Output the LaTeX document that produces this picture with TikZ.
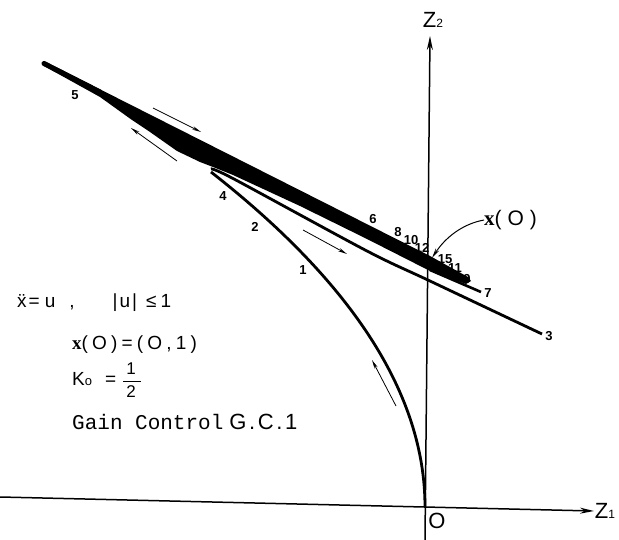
\documentclass[tikz,border=0pt]{standalone}
\usepackage{fontspec}
\usepackage{amsmath}
\setmainfont{Liberation Sans}
\newfontfamily\tyfont{Liberation Mono}
\newfontfamily\bxfont{Liberation Serif}
\usetikzlibrary{arrows.meta}
\begin{document}
\begin{tikzpicture}[x=1pt,y=-1pt,
  lbl/.style={font=\fontsize{13}{13}\selectfont\bfseries, inner sep=0pt},
  eqtext/.style={font=\fontsize{19}{22}\selectfont\addfontfeature{LetterSpace=22}, inner sep=0pt, anchor=west},
  traj/.style={line width=2.8pt},
  flow/.style={line width=0.8pt, -{Stealth[length=9pt,width=3.5pt]}},
  axisline/.style={line width=1.5pt, -{Stealth[length=14pt,width=6pt]}},
  axlabel/.style={font=\fontsize{22}{22}\selectfont, inner sep=0pt}]
\useasboundingbox (0,0) rectangle (619,540);
% axes
\coordinate (h0) at (0,497);
\coordinate (h1) at (594,511);
\coordinate (v0) at (425,540);
\coordinate (v1) at (430,36);
\draw[axisline] (h0) -- (h1);
\draw[axisline] (v0) -- (v1);
\node[axlabel] (z2) at (433,20) {Z{\fontsize{12}{12}\selectfont 2}};
\node[axlabel] (z1) at (605,511) {Z{\fontsize{12}{12}\selectfont 1}};
\node[axlabel] (orig) at (437,521) {O};
% trajectory 5 and the black band of trajectories
\coordinate (t5a) at (44,63.5);
\coordinate (t5b) at (100,92);
\draw[line width=5pt, line cap=round] (t5a) -- (t5b);
\fill (44,61) -- (430,256) -- (468,277)
  -- (471,281) -- (466,284) -- (430,271) -- (367,239) -- (300,206) -- (233,175) -- (213,167)
  -- (200,162) -- (177,151) -- (150,132) -- (132,120) -- (100,97) -- (44,66) -- cycle;
% trajectory 7
\coordinate (t7a) at (430,270);
\coordinate (t7b) at (481,292);
\draw[line width=2.6pt] (t7a) -- (t7b);
% trajectory 3
\draw[traj] plot[smooth] coordinates {(211,169) (233,178.5) (367,251) (430,281) (542,334)};
% curve 1 (parabola to origin)
\coordinate (c0) at (425,507);
\coordinate (c1) at (211,172);
\draw[traj] (c0) .. controls (425,395.3) and (353.7,283.7) .. (c1);
% flow arrows
\coordinate (fa1) at (153,108); \coordinate (fb1) at (201,132);
\coordinate (fa2) at (177,161); \coordinate (fb2) at (131,128);
\coordinate (fa3) at (303,230); \coordinate (fb3) at (347,254);
\coordinate (fa4) at (396,406); \coordinate (fb4) at (372,360);
\draw[flow] (fa1) -- (fb1);
\draw[flow] (fa2) -- (fb2);
\draw[flow] (fa3) -- (fb3);
\draw[flow] (fa4) -- (fb4);
% x(0) label and pointer
\node[font=\fontsize{21}{21}\selectfont\addfontfeature{LetterSpace=28}, inner sep=0pt, anchor=west] (x0) at (484,220) {{\bxfont\bfseries x}(O)};
\coordinate (xtip) at (432,258);
\draw[line width=1pt, -{Stealth[length=10pt,width=4pt]}] (x0.west) .. controls (462,224) and (445,238) .. (xtip);
% trajectory numbers
\node[lbl] (n1) at (303,270) {1};
\node[lbl] (n2) at (255,227) {2};
\node[lbl] (n3) at (549,336) {3};
\node[lbl] (n4) at (223,196) {4};
\node[lbl] (n5) at (75,95) {5};
\node[lbl] (n6) at (373,219) {6};
\node[lbl] (n7) at (488,293) {7};
\node[lbl] (n8) at (398,232) {8};
\node[lbl] (n9) at (467,279) {9};
\node[lbl] (n10) at (411,240) {10};
\node[lbl] (n11) at (455,268) {11};
\node[lbl] (n12) at (422,248) {12};
\node[lbl] (n15) at (445,259) {15};
% text block
\node[eqtext, font=\fontsize{19}{22}\selectfont] (e1) at (17,303) {\"x\hspace{2pt}=\hspace{5pt}u\hspace{14pt},\hspace{38pt}|\hspace{2pt}u\hspace{2pt}|\hspace{9pt}≤\hspace{4pt}1};
\node[eqtext] (e2) at (72,345) {{\bxfont\bfseries x}(O)=(O,1)};
\node[eqtext, font=\fontsize{19}{22}\selectfont] (e3) at (72,380) {K{\fontsize{13}{13}\selectfont o}\hspace{13pt}=\hspace{6pt}$\dfrac{\text{\fontsize{17}{17}\selectfont\hspace{3pt}1\hspace{5pt}}}{\text{\fontsize{17}{17}\selectfont\hspace{3pt}2\hspace{5pt}}}$};
\node[eqtext, font=\fontsize{19}{22}\selectfont] (e4) at (72,422) {{\tyfont\fontsize{21}{21}\selectfont Gain Control}\hspace{6pt}{\fontsize{22}{22}\selectfont\addfontfeature{LetterSpace=12}G.C.1}};
\end{tikzpicture}
\end{document}
